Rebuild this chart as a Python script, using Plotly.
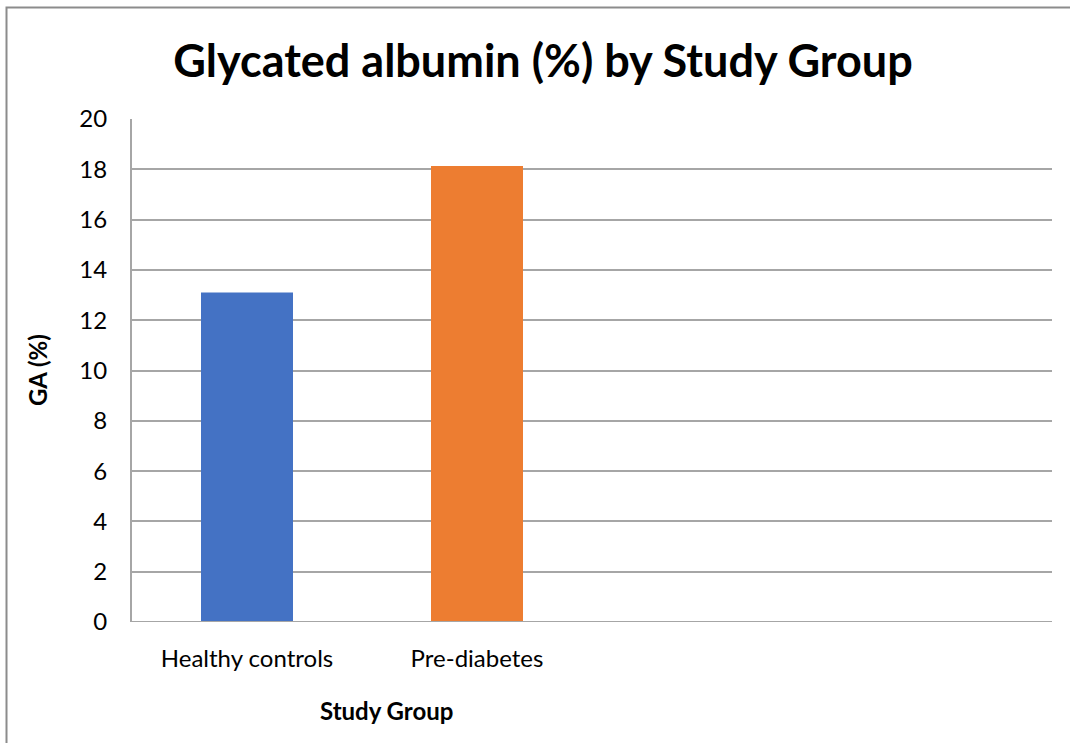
import plotly.graph_objects as go

# Mean glycated albumin per study group
groups = ["Healthy controls", "Pre-diabetes"]
ga_values = [13.1, 18.13]
bar_colors = ["#4472C4", "#ED7D31"]
y_ticks = [0, 2, 4, 6, 8, 10, 12, 14, 16, 18, 20]

n_slots = 4  # category slots on the axis (two left empty)
positions = list(range(len(groups)))

W, H = 1070, 743
ML, MR, MT, MB = 132, 18, 119, 121
font_family = "Lato, 'Open Sans', sans-serif"

fig = go.Figure()
fig.add_trace(go.Bar(
    x=positions,
    y=ga_values,
    marker=dict(color=bar_colors, line=dict(width=0)),
    width=0.4,
    showlegend=False,
    hoverinfo="skip",
))

fig.update_layout(
    width=W,
    height=H,
    margin=dict(l=ML, r=MR, t=MT, b=MB),
    paper_bgcolor="white",
    plot_bgcolor="white",
    font=dict(family=font_family, color="#000000"),
    title=dict(
        text="<b>Glycated albumin (%) by Study Group</b>",
        x=543 / W,
        xanchor="center",
        y=1 - 61 / H,
        yanchor="middle",
        font=dict(size=45, family=font_family, color="#000000"),
    ),
    xaxis=dict(
        range=[-0.5, n_slots - 0.5],
        tickmode="array",
        tickvals=positions,
        ticktext=groups,
        tickfont=dict(size=24),
        showgrid=False,
        zeroline=False,
        showline=False,
        ticks="",
        ticklabelstandoff=20,
        fixedrange=True,
    ),
    yaxis=dict(
        range=[0, 20],
        tickmode="array",
        tickvals=y_ticks,
        tickfont=dict(size=24),
        showgrid=True,
        gridcolor="#A6A6A6",
        gridwidth=2,
        zeroline=False,
        showline=True,
        linecolor="#A6A6A6",
        linewidth=2,
        ticks="",
        ticklabelstandoff=18,
        fixedrange=True,
    ),
)

# Axis titles
fig.add_annotation(text="<b>Study Group</b>", xref="paper", yref="paper",
                   x=(386 - ML) / (W - ML - MR), y=-(710 - (H - MB)) / (H - MT - MB),
                   xanchor="center", yanchor="middle", showarrow=False,
                   font=dict(size=24, family=font_family, color="#000000"))
fig.add_annotation(text="<b>GA (%)</b>", xref="paper", yref="paper",
                   x=-(ML - 37) / (W - ML - MR), y=((H - MB) - 370) / (H - MT - MB),
                   xanchor="center", yanchor="middle", textangle=-90, showarrow=False,
                   font=dict(size=24, family=font_family, color="#000000"))

# Zero baseline drawn over the bars' foot
fig.add_shape(type="line", xref="paper", yref="y", x0=0, x1=1, y0=0, y1=0,
              line=dict(color="#A6A6A6", width=2), layer="above")

# Outer chart frame (left and top edges visible)
pw = W - ML - MR
ph = H - MT - MB
fx0 = (6.5 - ML) / pw
fy1 = 1 + (MT - 7.5) / ph
fy0 = -(MB + 5) / ph
fx1 = 1 + (MR + 5) / pw
fig.add_shape(type="rect", xref="paper", yref="paper",
              x0=fx0, x1=fx1, y0=fy0, y1=fy1,
              line=dict(color="#8C8C8C", width=2), fillcolor="rgba(0,0,0,0)",
              layer="below")

fig.write_html("out.html", config={"displayModeBar": False})
